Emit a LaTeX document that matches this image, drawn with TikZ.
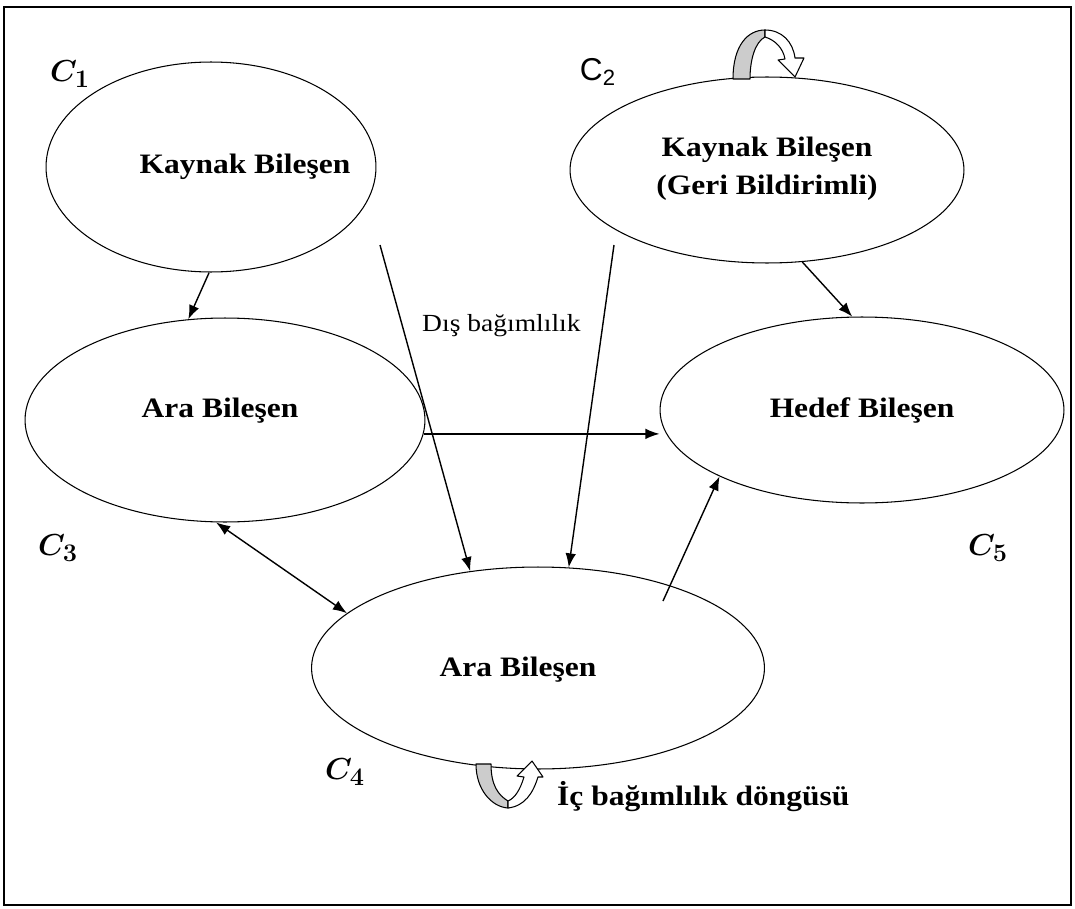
\documentclass[tikz,border=0pt]{standalone}
\usepackage{fontspec}
\setmainfont{Liberation Serif}[FakeStretch = 1.12]
\setsansfont{Liberation Sans}
\usetikzlibrary{shapes.geometric, arrows.meta}

\begin{document}
\begin{tikzpicture}[x = 0.02cm, y = -0.02cm,
    comp/.style = {shape = ellipse, draw, line width = 0.6pt, inner sep = 0pt},
    ctext/.style = {align = center, inner sep = 0pt, font = \fontsize{16}{21.5}\selectfont\bfseries},
    dep/.style = {line width = 0.8pt, -{Latex[length = 8pt, width = 6pt]}},
    dep2/.style = {line width = 0.8pt, {Latex[length = 8pt, width = 6pt]}-{Latex[length = 8pt, width = 6pt]}},
    clabel/.style = {font = \fontsize{19}{21}\selectfont\boldmath},
    loop/.style = {line width = 0.6pt, line join = round}]
    \useasboundingbox (0,0) rectangle (1075,909);
    \draw[line width = 0.8pt] (4,7) rectangle (1071,905);

    \node [comp, minimum width = 6.6cm, minimum height = 4.2cm] (ks) at (211,167) {};
    \node [comp, minimum width = 7.88cm, minimum height = 3.72cm] (kgb) at (767,170) {};
    \node [comp, minimum width = 8cm, minimum height = 4.08cm] (ara1) at (225,420) {};
    \node [comp, minimum width = 8.08cm, minimum height = 3.72cm] (hedef) at (862,410) {};
    \node [comp, minimum width = 9.06cm, minimum height = 4.04cm] (ara2) at (538,668) {};

    \node [ctext] (kst) at (245,167) {Kaynak Bileşen};
    \node [ctext] (kgbt) at (767,169) {Kaynak Bileşen\\(Geri Bildirimli)};
    \node [ctext] (ara1t) at (220,411) {Ara Bileşen};
    \node [ctext] (hedeft) at (862,410) {Hedef Bileşen};
    \node [ctext] (ara2t) at (518,670) {Ara Bileşen};

    \node [clabel] (c1) at (70,74) {$C_1$};
    \node [clabel, font = \fontsize{18}{20}\selectfont\sffamily] (c2) at (598,72) {C\textsubscript{2}};
    \node [clabel] (c3) at (58,548) {$C_3$};
    \node [clabel] (c5) at (988,548) {$C_5$};
    \node [clabel] (c4) at (345,772) {$C_4$};

    \coordinate (d1) at (380,245);
    \coordinate (d2) at (614,245);
    \coordinate (d3) at (663,601);
    \draw[dep] (ks.-91) -- (ara1.110);
    \draw[dep] (d1) -- (ara2.125);
    \draw[dep] (d2) -- (ara2.73);
    \draw[dep] (kgb.-69) -- (hedef.96);
    \draw[dep] (ara1.-4) -- (ara1.-4 -| hedef.west);
    \draw[dep2] (ara1.-95) -- (ara2.164);
    \draw[dep] (d3) -- (hedef.-155);
    \node [font = \fontsize{14}{16}\selectfont, anchor = west] (dis) at (416,326) {Dış bağımlılık};

    \filldraw[loop, fill = gray!40] (733,79) .. controls (733,45) and (748,30) .. (765,30) -- (765,37) .. controls (755,42) and (750,60) .. (750,79) -- cycle;
    \filldraw[loop, fill = white] (765,30) .. controls (782,30) and (793,42) .. (795,58) -- (804,58) -- (795,77) -- (778,60) -- (785,59) .. controls (783,48) and (775,40) .. (765,37) -- cycle;

    \filldraw[loop, fill = gray!40] (476,764) .. controls (476,790) and (492,807) .. (508,808) -- (508,801) .. controls (498,795) and (491,785) .. (491,764) -- cycle;
    \filldraw[loop, fill = white] (508,808) .. controls (525,806) and (533,793) .. (538,777) -- (543,777) -- (532,761) -- (517,776) -- (524,777) .. controls (520,790) and (515,798) .. (508,801) -- cycle;
    \node [font = \fontsize{16}{18}\selectfont\bfseries, anchor = west] (ic) at (551,797) {İç bağımlılık döngüsü};
\end{tikzpicture}
\end{document}
